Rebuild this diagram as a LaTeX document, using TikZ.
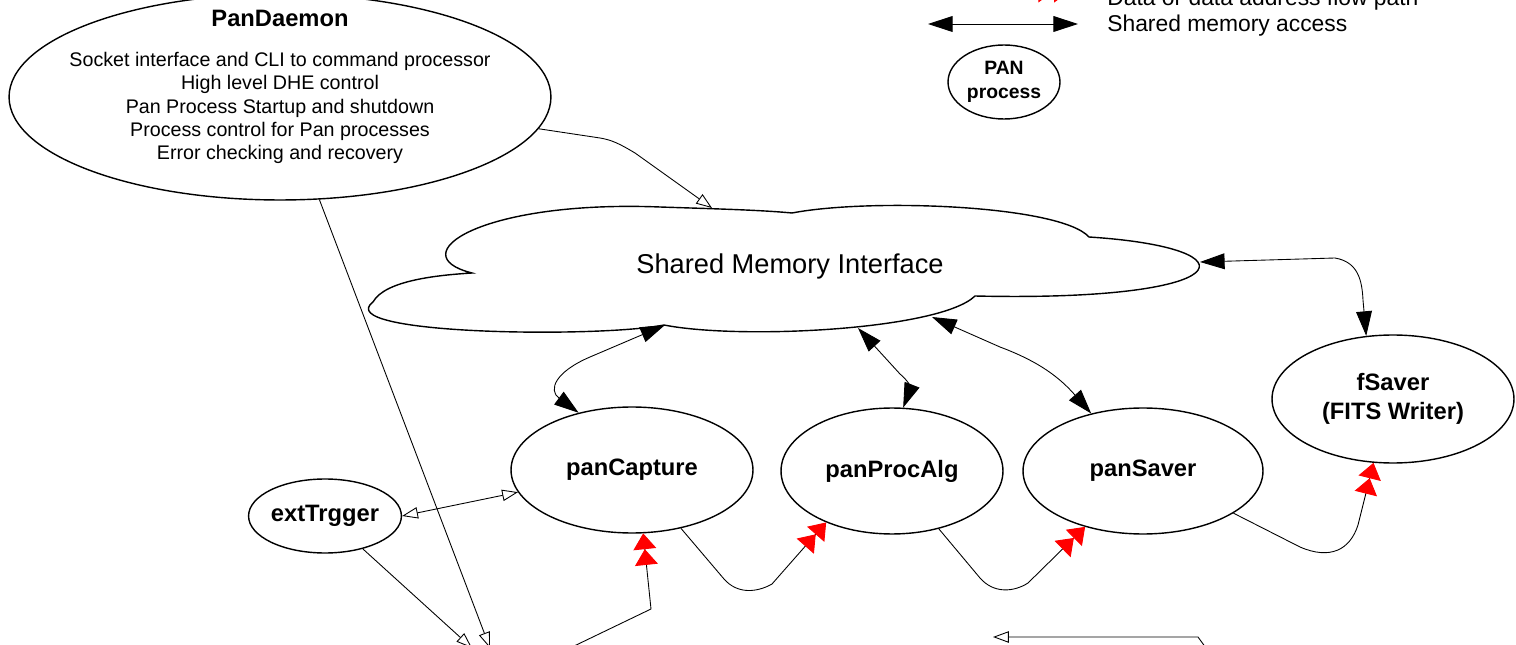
\documentclass[tikz,border=0pt]{standalone}
\usepackage{fontspec}
\setmainfont{Liberation Sans}
\usetikzlibrary{arrows.meta,shapes.geometric}

\begin{document}
\begin{tikzpicture}
  [x=0.02cm,y=-0.02cm,
   proc/.style={ellipse,draw,line width=0.8pt,inner sep=0pt,align=center,
     minimum height=2.52cm,font=\bfseries\fontsize{13.5}{16.5}\selectfont},
   shm/.style={draw,line width=0.5pt,
     {Triangle[length=14pt,width=9pt]}-{Triangle[length=14pt,width=9pt]}},
   flow/.style={draw,line width=0.5pt,
     -{Triangle[length=9pt,width=13pt,color=red]Triangle[length=9pt,width=13pt,color=red]}},
   ctl/.style={draw,line width=0.5pt,-{Triangle[open,length=9pt,width=6.5pt]}},
   ctlboth/.style={draw,line width=0.5pt,
     {Triangle[open,length=9pt,width=6.5pt]}-{Triangle[open,length=9pt,width=6.5pt]}}]
  \useasboundingbox (0,0) rectangle (1516,645);

  % daemon
  \node (daemon)[ellipse,draw,line width=0.8pt,minimum width=10.84cm,minimum height=4.12cm] at (280,97) {};
  \node (dtitle)[font=\bfseries\fontsize{13.5}{16}\selectfont] at (280,18) {PanDaemon};
  \node (dtext)[align=center,font=\fontsize{11.2}{13.3}\selectfont] at (280,108)
    {Socket interface and CLI to command processor\\High level DHE control\\
     Pan Process Startup and shutdown\\Process control for Pan processes\\
     Error checking and recovery};

  % shared memory cloud
  \draw[line width=0.8pt] (472,273) .. controls (400,255) and (480,200) .. (660,207)
    .. controls (720,209) and (760,210) .. (792,213)
    .. controls (870,198) and (1060,205) .. (1089,237)
    .. controls (1260,248) and (1240,302) .. (975,296)
    .. controls (940,330) and (740,340) .. (664,325)
    .. controls (600,338) and (330,335) .. (373,302)
    .. controls (385,280) and (440,275) .. cycle;
  \node (cloudtxt)[font=\fontsize{15.5}{18}\selectfont] at (790,266) {Shared Memory Interface};
  \coordinate (cloudTop) at (712,208);
  \coordinate (cloudCap) at (665,325);
  \coordinate (cloudProc) at (858,328);
  \coordinate (cloudSav) at (932,317);
  \coordinate (cloudFS) at (1200,262);

  % processes
  \node (capture)[proc,minimum width=4.84cm] at (632,470) {panCapture};
  \node (procalg)[proc,minimum width=4.44cm] at (892,471) {panProcAlg};
  \node (saver)[proc,minimum width=4.8cm] at (1143,471) {panSaver};
  \node (fsaver)[proc,minimum width=4.84cm,minimum height=2.56cm] at (1393,399) {fSaver\\(FITS Writer)};
  \node (ext)[proc,minimum width=2.96cm,minimum height=1.48cm] at (325,516) {extTrgger};

  % legend
  \node (legproc)[proc,minimum width=2.24cm,minimum height=1.48cm,
    font=\bfseries\fontsize{11}{14}\selectfont] at (1004,82) {PAN\\process};
  \node (legflow)[anchor=base west,inner sep=0pt,font=\fontsize{13}{15}\selectfont] at (1107,6) {Data or data address flow path};
  \node (legshm)[anchor=base west,inner sep=0pt,font=\fontsize{13}{15}\selectfont] at (1107,32) {Shared memory access};
  \coordinate (legRedL) at (960,-9);
  \coordinate (legRedR) at (1070,-9);
  \coordinate (legL) at (928,24);
  \coordinate (legR) at (1078,24);
  \draw[flow] (legRedL) -- (legRedR);
  \draw[shm] (legL) -- (legR);

  % off-page ends
  \coordinate (extEnd) at (472,648);
  \coordinate (dmnEnd) at (490,648);
  \coordinate (feedEnd) at (570,648);
  \coordinate (brStart) at (1206,648);
  \coordinate (brEnd) at (993,637);

  % shared memory access
  \draw[shm] (cloudCap) -- (590,357) .. controls (555,372) and (548,390) .. (capture.133);
  \draw[shm] (cloudProc) -- (900,374) .. controls (912,384) and (910,390) .. (procalg.80);
  \draw[shm] (cloudSav) -- (1000,347) .. controls (1040,362) and (1060,378) .. (saver.132);
  \draw[shm] (cloudFS) -- (1335,258) .. controls (1358,262) and (1362,280) .. (1363,300) -- (fsaver.113);

  % data flow
  \draw[flow] (capture.-50) -- (724,579) .. controls (738,595) and (758,592) .. (772,584) -- (procalg.218);
  \draw[flow] (procalg.-51) -- (980,578) .. controls (994,594) and (1014,592) .. (1028,583) -- (saver.224);
  \draw[flow] (saver.-25) -- (1300,547) .. controls (1330,560) and (1350,550) .. (1358,525) -- (fsaver.253);
  \draw[flow] (feedEnd) -- (651,609) -- (capture.280);

  % control
  \draw[ctl] (daemon.-7) -- (600,138) .. controls (612,140) and (620,144) .. (635,153) -- (cloudTop);
  \draw[ctl] (daemon.-69) -- (dmnEnd);
  \draw[ctl] (ext.-41) -- (extEnd);
  \draw[ctlboth] (ext.east) -- (capture.191.5);
  \draw[ctl] (brStart) -- (1198,637) -- (brEnd);
\end{tikzpicture}
\end{document}
